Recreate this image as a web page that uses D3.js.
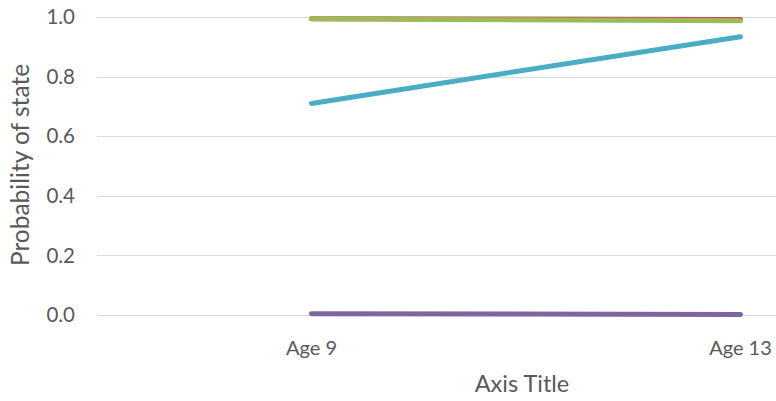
<!DOCTYPE html>
<html>
<head>
<meta charset="utf-8">
<script src="https://cdn.jsdelivr.net/npm/d3@7"></script>
<style>
  html, body { margin: 0; padding: 0; background: #fff; }
  svg { display: block; }
</style>
</head>
<body>
<svg id="chart" width="776" height="401"></svg>
<script>
// Categories along the x axis
const categories = ["Age 9", "Age 13"];
// State probability per category, one array per state
const stateRed    = [0.994, 0.992];
const stateGreen  = [0.994, 0.987];
const statePurple = [0.004, 0.002];
const stateAqua   = [0.710, 0.934];
const yTicks = [0, 0.2, 0.4, 0.6, 0.8, 1.0];

const series = [
  { values: stateRed,    color: "#C0504D" },
  { values: stateGreen,  color: "#9BBB59" },
  { values: statePurple, color: "#8064A2" },
  { values: stateAqua,   color: "#4BACC6" }
];

const svg = d3.select("#chart");
const font = "Lato, 'Open Sans', sans-serif";
const textColor = "#595959";

const plotLeft = 97, plotRight = 955, plotTop = 17, plotBottom = 315;

const x = d3.scaleBand().domain(categories).range([plotLeft, plotRight]).padding(0);
const y = d3.scaleLinear().domain([0, 1]).range([plotBottom, plotTop]);

// Horizontal gridlines
svg.append("g")
  .selectAll("line")
  .data(yTicks)
  .join("line")
  .attr("x1", plotLeft)
  .attr("x2", plotRight)
  .attr("y1", d => Math.round(y(d)) + 0.5)
  .attr("y2", d => Math.round(y(d)) + 0.5)
  .attr("stroke", "#D9D9D9")
  .attr("stroke-width", 1);

// Y tick labels
svg.append("g")
  .selectAll("text")
  .data(yTicks)
  .join("text")
  .attr("x", 75)
  .attr("y", d => y(d))
  .attr("dy", "0.35em")
  .attr("text-anchor", "end")
  .attr("font-family", font)
  .attr("font-size", 20.5)
  .attr("fill", textColor)
  .text(d => d3.format(".1f")(d));

// X tick labels
svg.append("g")
  .selectAll("text")
  .data(categories)
  .join("text")
  .attr("x", d => x(d) + x.bandwidth() / 2)
  .attr("y", 355)
  .attr("text-anchor", "middle")
  .attr("font-family", font)
  .attr("font-size", 20)
  .attr("fill", textColor)
  .text(d => d);

// Axis titles
svg.append("text")
  .attr("x", 522)
  .attr("y", 392)
  .attr("text-anchor", "middle")
  .attr("font-family", font)
  .attr("font-size", 23.5)
  .attr("fill", textColor)
  .text("Axis Title");

svg.append("text")
  .attr("transform", "translate(29,165) rotate(-90)")
  .attr("text-anchor", "middle")
  .attr("font-family", font)
  .attr("font-size", 24.5)
  .attr("fill", textColor)
  .text("Probability of state");

// Series lines
const line = d3.line()
  .x((d, i) => x(categories[i]) + x.bandwidth() / 2)
  .y(d => y(d));

svg.append("g")
  .selectAll("path")
  .data(series)
  .join("path")
  .attr("d", d => line(d.values))
  .attr("fill", "none")
  .attr("stroke", d => d.color)
  .attr("stroke-width", 5)
  .attr("stroke-linecap", "round")
  .attr("stroke-linejoin", "round");
</script>
</body>
</html>
